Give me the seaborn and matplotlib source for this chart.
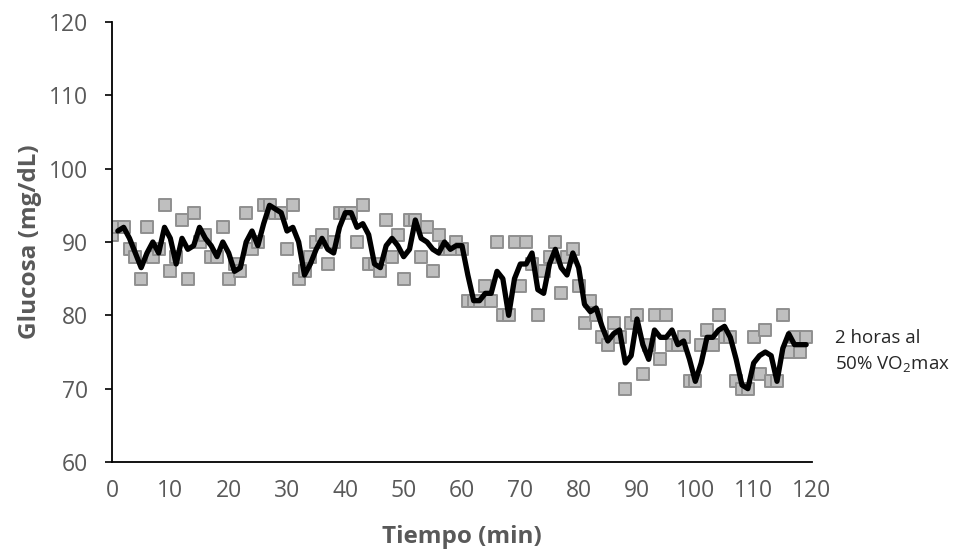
import matplotlib
matplotlib.use("Agg")
import matplotlib.pyplot as plt
import seaborn as sns
import pandas as pd
import numpy as np

# Data (minute, glucose mg/dL)
minutes = list(range(0, 120))
glucose = [
    91, 92, 92, 89, 88, 85, 92, 88, 89, 95,   # 0-9
    86, 88, 93, 85, 94, 90, 91, 88, 88, 92,   # 10-19
    85, 87, 86, 94, 89, 90, 95, 95, 94, 94,   # 20-29
    89, 95, 85, 86, 88, 90, 91, 87, 90, 94,   # 30-39
    94, 94, 90, 95, 87, 87, 86, 93, 88, 91,   # 40-49
    85, 93, 93, 88, 92, 86, 91, 89, 89, 90,   # 50-59
    89, 82, 82, 82, 84, 82, 90, 80, 80, 90,   # 60-69
    84, 90, 87, 80, 86, 88, 90, 83, 88, 89,   # 70-79
    84, 79, 82, 80, 77, 76, 79, 77, 70, 79,   # 80-89
    80, 72, 76, 80, 74, 80, 76, 76, 77, 71,   # 90-99
    71, 76, 78, 76, 80, 77, 77, 71, 70, 70,   # 100-109
    77, 72, 78, 71, 71, 80, 75, 77, 75, 77,   # 110-119
]
x_ticks = list(range(0, 121, 10))
y_ticks = list(range(60, 121, 10))
annotation = "2 horas al\n50% VO$_2$max"

df = pd.DataFrame({"Tiempo": minutes, "Glucosa": glucose})
# Excel-style 2-period moving-average trendline
trend = df.assign(MA=df["Glucosa"].rolling(2).mean()).dropna()

sns.set_theme(style="white")
plt.rcParams["font.family"] = ["Open Sans", "DejaVu Sans"]
plt.rcParams["mathtext.fontset"] = "custom"
plt.rcParams["mathtext.rm"] = "Open Sans"

fig = plt.figure(figsize=(9.57, 5.5), dpi=100)
ax = fig.add_axes([112 / 957, 1 - 462 / 550, 700 / 957, 440 / 550])

sns.scatterplot(data=df, x="Tiempo", y="Glucosa", marker="s", s=80,
                color="#bfbfbf", edgecolor="#8f8f8f", linewidth=1.4,
                ax=ax, zorder=2)
sns.lineplot(data=trend, x="Tiempo", y="MA", color="black", linewidth=3.8,
             ax=ax, zorder=3)

ax.set_xlim(0, 120)
ax.set_ylim(60, 120)
ax.set_xticks(x_ticks)
ax.set_yticks(y_ticks)
ax.tick_params(axis="y", direction="out", length=5, width=1.2, color="black",
               pad=12, labelsize=16.5, labelcolor="#595959", left=True)
ax.tick_params(axis="x", length=0, pad=12, labelsize=16.5, labelcolor="#595959")
for s in ["top", "right"]:
    ax.spines[s].set_visible(False)
for s in ["left", "bottom"]:
    ax.spines[s].set_color("black")
    ax.spines[s].set_linewidth(1.3)

ax.set_xlabel("Tiempo (min)", fontsize=17.5, fontweight="bold", color="#595959",
              labelpad=16)
ax.set_ylabel("Glucosa (mg/dL)", fontsize=17.5, fontweight="bold",
              color="#595959", labelpad=5)

fig.text(835 / 957, 1 - 352 / 550, annotation, fontsize=13.5, color="#262626",
         va="center", ha="left", linespacing=1.45)

fig.savefig("out.png", dpi=100)
